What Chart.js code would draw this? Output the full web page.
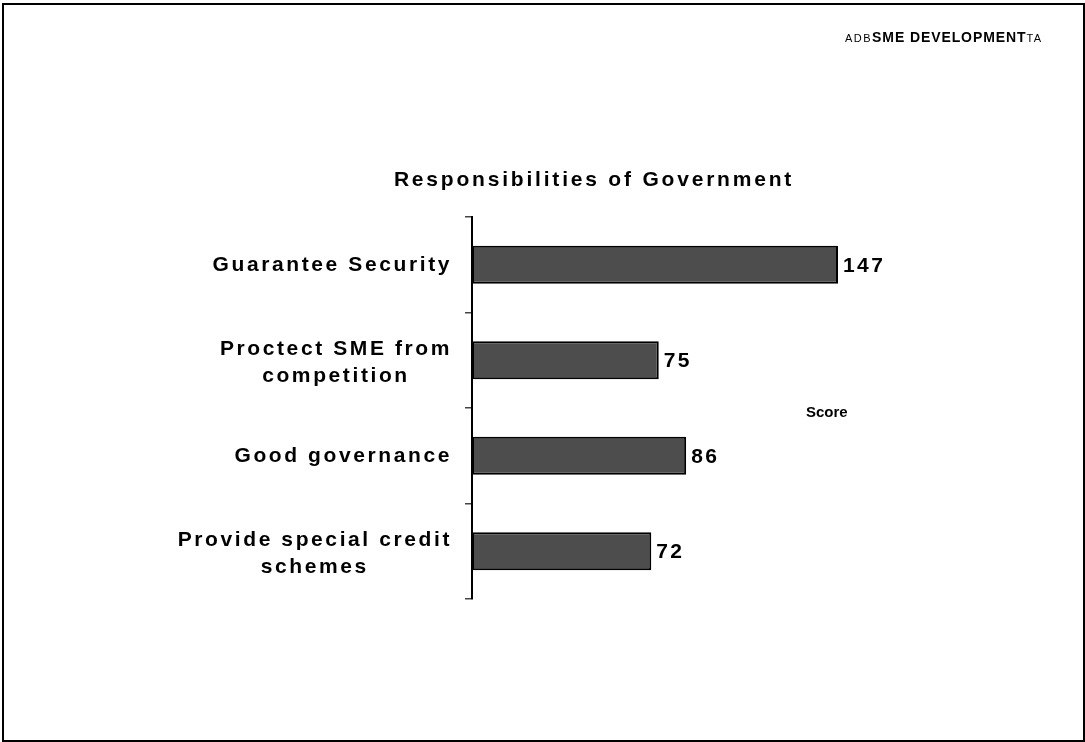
<!DOCTYPE html>
<html>
<head>
<meta charset="utf-8">
<script src="https://cdn.jsdelivr.net/npm/chart.js@4/dist/chart.umd.min.js"></script>
<style>
  html, body { margin: 0; padding: 0; background: #fff; }
  #wrap { position: relative; width: 1085px; height: 742px; }
  #frame { position: absolute; left: 2px; top: 3px; width: 1083px; height: 739px;
           border: 2px solid #000; box-sizing: border-box; pointer-events: none; }
  canvas { position: absolute; left: 0; top: 0; }
</style>
</head>
<body>
<div id="wrap">
  <canvas id="chart" width="1085" height="742"></canvas>
  <div id="frame"></div>
</div>
<script>
// Survey results: how respondents rank government responsibilities
const categories = ['Guarantee Security', 'Proctect SME from competition', 'Good governance', 'Provide special credit schemes'];
const categoryLines = [
  ['Guarantee Security'],
  ['Proctect SME from', 'competition'],
  ['Good governance'],
  ['Provide special credit', 'schemes']
];
const scores = [147, 75, 86, 72];
const chartTitle = 'Responsibilities of Government';
const valueAxisTitle = 'Score';
const headerParts = ['ADB', 'SME DEVELOPMENT', 'TA'];
const scoreAxisMax = 160;

const FONT = '"Liberation Sans", Arial, Helvetica, sans-serif';

// Draws the slide header, title, wrapped category labels and value labels
const slideText = {
  id: 'slideText',
  beforeDraw(chart) {
    chart.ctx.letterSpacing = '0px';
  },
  afterDraw(chart) {
    const ctx = chart.ctx;
    const yScale = chart.scales.y;
    ctx.save();
    ctx.fillStyle = '#000';

    // header line
    ctx.textBaseline = 'alphabetic';
    ctx.textAlign = 'left';
    let hx = 845;
    const headerFonts = ['11px ' + FONT, 'bold 14px ' + FONT, '11px ' + FONT];
    const headerSpacing = ['1.5px', '0.9px', '1.5px'];
    headerParts.forEach((part, i) => {
      ctx.font = headerFonts[i];
      ctx.letterSpacing = headerSpacing[i];
      ctx.fillText(part, hx, 42);
      hx += ctx.measureText(part).width;
    });

    // chart title
    ctx.font = 'bold 21px ' + FONT;
    ctx.letterSpacing = '2.8px';
    ctx.textAlign = 'center';
    ctx.textBaseline = 'middle';
    ctx.fillText(chartTitle, 594, 180);

    // category labels: each block right-aligned, lines centred within it
    ctx.font = 'bold 21px ' + FONT;
    ctx.letterSpacing = '2.6px';
    const lineHeight = 27;
    const rightEdge = 452;
    categoryLines.forEach((lines, i) => {
      const widest = Math.max(...lines.map(l => ctx.measureText(l).width));
      const cx = rightEdge - widest / 2;
      const cy = yScale.getPixelForValue(i) + (lines.length > 1 ? 2 : 0);
      lines.forEach((line, j) => {
        const ly = cy + (j - (lines.length - 1) / 2) * lineHeight;
        ctx.fillText(line, cx, ly);
      });
    });

    // value labels at the end of each bar
    ctx.font = 'bold 21px ' + FONT;
    ctx.letterSpacing = '2.4px';
    ctx.textAlign = 'left';
    const meta = chart.getDatasetMeta(0);
    meta.data.forEach((bar, i) => {
      ctx.fillText(String(scores[i]), bar.x + 5, bar.y + 1);
    });

    // value axis caption
    ctx.font = 'bold 15px ' + FONT;
    ctx.letterSpacing = '0px';
    ctx.fillText(valueAxisTitle, 806, 413);

    ctx.restore();
  }
};

new Chart(document.getElementById('chart'), {
  type: 'bar',
  data: {
    labels: categories,
    datasets: [{
      data: scores,
      backgroundColor: '#4d4d4d',
      borderColor: '#000',
      borderWidth: 2,
      borderSkipped: false,
      categoryPercentage: 0.8,
      barPercentage: 0.5
    }]
  },
  options: {
    indexAxis: 'y',
    responsive: false,
    animation: false,
    devicePixelRatio: 1,
    layout: { padding: { left: 0, top: 217, right: 214.6, bottom: 143 } },
    scales: {
      y: {
        type: 'category',
        position: 'left',
        grid: {
          display: true,
          offset: true,
          drawOnChartArea: false,
          drawTicks: true,
          tickLength: 7,
          color: '#444',
          lineWidth: 1.5
        },
        border: { display: true, color: '#000', width: 2 },
        ticks: { display: false },
        afterFit(scale) { scale.width = 472; }
      },
      x: {
        type: 'linear',
        min: 0,
        max: scoreAxisMax,
        display: false
      }
    },
    plugins: {
      legend: { display: false },
      tooltip: { enabled: false },
      title: { display: false }
    }
  },
  plugins: [slideText]
});
</script>
</body>
</html>
